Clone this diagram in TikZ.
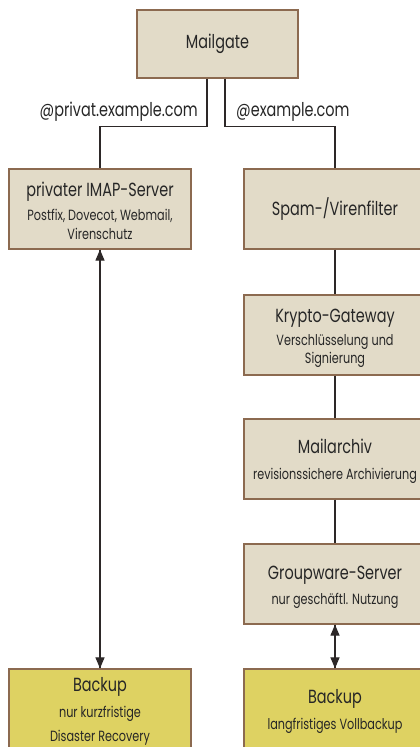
\documentclass[tikz,border=0pt]{standalone}
\usepackage{fontspec}
\setmainfont{Poppins}[FakeStretch=0.76]
\usetikzlibrary{arrows.meta}
\definecolor{boxfill}{RGB}{226,219,200}
\definecolor{boxline}{RGB}{140,106,80}
\definecolor{bkfill}{RGB}{222,210,98}
\definecolor{conncol}{RGB}{45,40,40}
\newcommand{\ttlf}{\fontsize{19}{22}\selectfont}
\newcommand{\ttlx}{\ttlf\rule{0pt}{19pt}}
\newcommand{\subf}{\fontsize{14.8}{19}\selectfont}
\newcommand{\lblf}{\fontsize{19}{22}\selectfont}
\tikzset{
  box/.style={draw=boxline, fill=boxfill, line width=1.2pt, minimum width=182pt,
    minimum height=80pt, inner sep=0pt, align=center, text=black!85, font=\subf},
  bkbox/.style={box, fill=bkfill},
  conn/.style={draw=conncol, line width=1.1pt},
  tip/.style={-{Triangle[length=11pt,width=9pt]}},
  lbl/.style={font=\lblf, inner sep=0pt, text=black!85}
}
\begin{document}
\begin{tikzpicture}[x=1pt,y=-1pt]
\useasboundingbox (0,0) rectangle (420,747);
\node[box, minimum width=161pt, minimum height=68pt] (mg) at (217.5,44) {\ttlf Mailgate};
\node[box] (imap) at (100,209) {\ttlx privater IMAP-Server\\[5pt]\subf Postfix, Dovecot, Webmail,\\\subf Virenschutz};
\node[box] (spam) at (335,209) {\ttlf Spam-/Virenfilter};
\node[box] (kry) at (335,335) {\ttlx Krypto-Gateway\\[4pt]\subf Verschlüsselung und\\[-1pt]\subf Signierung};
\node[box] (arc) at (335,459) {\ttlx Mailarchiv\\[7pt]\subf revisionssichere Archivierung};
\node[box] (gw) at (335,584) {\ttlx Groupware-Server\\[6pt]\subf nur geschäftl. Nutzung};
\node[bkbox] (bk1) at (100,709) {\ttlx Backup\\[7pt]\subf nur kurzfristige\\[5pt]\subf Disaster Recovery};
\node[bkbox] (bk2) at (335,709) {\ttlx Backup\\[7pt]\subf langfristiges Vollbackup};
\node[lbl, anchor=east] (l1) at (198,112) {@privat.example.com};
\node[lbl, anchor=west] (l2) at (236,112) {@example.com};
\draw[conn] ([xshift=-10.5pt]mg.south) -- ++(0,48) -| (imap.north);
\draw[conn] ([xshift=7.5pt]mg.south) -- ++(0,48) -| (spam.north);
\draw[conn] (spam.south) -- (kry.north);
\draw[conn] (kry.south) -- (arc.north);
\draw[conn] (arc.south) -- (gw.north);
\draw[conn, tip] (imap.south) -- (bk1.north);
\draw[conn, tip] (bk1.north) -- (imap.south);
\draw[conn, tip] (gw.south) -- (bk2.north);
\draw[conn, tip] (bk2.north) -- (gw.south);
\end{tikzpicture}
\end{document}
